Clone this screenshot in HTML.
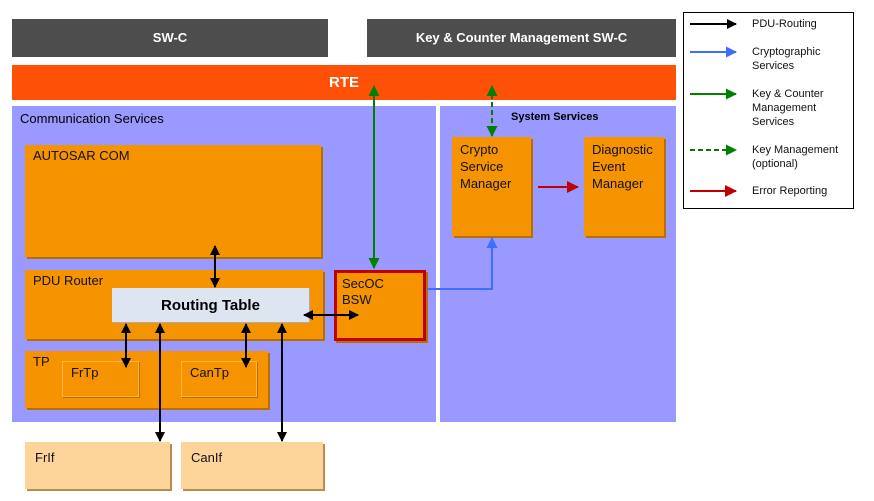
<!DOCTYPE html>
<html><head><meta charset="utf-8"><style>
body{margin:0;width:874px;height:501px;background:#fff;position:relative;overflow:hidden;font-family:"Liberation Sans",sans-serif;}
div{position:absolute;box-sizing:border-box;}
.o{background:#f59300;box-shadow:2px 2px 0 #b86e00;font-size:13px;color:#111;padding:3px 0 0 8px;line-height:16px;}
.l{background:#fdd59b;box-shadow:2px 2px 0 #b98a4a;font-size:13px;color:#111;padding:8px 0 0 10px;}
.g{background:#4d4d4d;color:#fff;font-weight:bold;font-size:13px;text-align:center;line-height:38px;}
.t{font-size:11px;color:#111;line-height:14px;}
</style></head><body>
<div class="g" style="left:12px;top:19px;width:316px;height:38px;">SW-C</div>
<div class="g" style="left:367px;top:19px;width:309px;height:38px;">Key &amp; Counter Management SW-C</div>
<div style="left:12px;top:65px;width:664px;height:35px;background:#ff5008;color:#fff;font-weight:bold;font-size:15px;text-align:center;line-height:35px;">RTE</div>
<div style="left:12px;top:106px;width:424px;height:316px;background:#9999ff;font-size:13px;padding:5px 0 0 8px;">Communication Services</div>
<div style="left:440px;top:106px;width:236px;height:316px;background:#9999ff;font-size:11px;font-weight:bold;padding:5px 0 0 71px;">System Services</div>
<div class="o" style="left:25px;top:145px;width:296px;height:112px;">AUTOSAR COM</div>
<div class="o" style="left:25px;top:270px;width:298px;height:69px;">PDU Router</div>
<div style="left:112px;top:288px;width:197px;height:34px;background:#dde6f0;font-weight:bold;font-size:15px;text-align:center;line-height:36px;box-shadow:1px 1px 0 #aab;">Routing Table</div>
<div class="o" style="left:334px;top:270px;width:92px;height:71px;border:3px solid #c00000;padding:3px 0 0 5px;">SecOC<br>BSW</div>
<div class="o" style="left:25px;top:351px;width:243px;height:57px;">TP</div>
<div class="o" style="left:62px;top:361px;width:77px;height:36px;box-shadow:1px 1px 0 #b86e00;border:1px solid #ffb347;">FrTp</div>
<div class="o" style="left:181px;top:361px;width:76px;height:36px;box-shadow:1px 1px 0 #b86e00;border:1px solid #ffb347;">CanTp</div>
<div class="l" style="left:25px;top:442px;width:145px;height:47px;">FrIf</div>
<div class="l" style="left:181px;top:442px;width:142px;height:47px;">CanIf</div>
<div class="o" style="left:452px;top:137px;width:79px;height:99px;font-size:13px;line-height:17px;padding-top:4px;">Crypto<br>Service<br>Manager</div>
<div class="o" style="left:584px;top:137px;width:80px;height:99px;font-size:13px;line-height:17px;padding-top:4px;">Diagnostic<br>Event<br>Manager</div>
<div style="left:683px;top:12px;width:171px;height:197px;border:1px solid #000;"></div>
<div class="t" style="left:752px;top:17px;">PDU-Routing</div>
<div class="t" style="left:752px;top:45px;">Cryptographic<br>Services</div>
<div class="t" style="left:752px;top:87px;">Key &amp; Counter<br>Management<br>Services</div>
<div class="t" style="left:752px;top:143px;">Key Management<br>(optional)</div>
<div class="t" style="left:752px;top:184px;">Error Reporting</div>
<svg width="874" height="501" style="position:absolute;left:0;top:0">
<defs>
<marker id="k" markerWidth="10" markerHeight="10" refX="9" refY="5" orient="auto-start-reverse" markerUnits="userSpaceOnUse"><path d="M0,0L10,5L0,10z" fill="#000"/></marker>
<marker id="gr" markerWidth="11" markerHeight="11" refX="10" refY="5.5" orient="auto-start-reverse" markerUnits="userSpaceOnUse"><path d="M0,0L11,5.5L0,11z" fill="#008000"/></marker>
<marker id="b" markerWidth="11" markerHeight="11" refX="10" refY="5.5" orient="auto-start-reverse" markerUnits="userSpaceOnUse"><path d="M0,0L11,5.5L0,11z" fill="#3d6fff"/></marker>
<marker id="r" markerWidth="12" markerHeight="12" refX="11" refY="6" orient="auto-start-reverse" markerUnits="userSpaceOnUse"><path d="M0,0L12,6L0,12z" fill="#c00000"/></marker>
</defs>
<g stroke="#000" stroke-width="2" fill="none">
<line x1="215" y1="246" x2="215" y2="287" marker-start="url(#k)" marker-end="url(#k)"/>
<line x1="304" y1="315" x2="358" y2="315" marker-start="url(#k)" marker-end="url(#k)"/>
<line x1="126" y1="324" x2="126" y2="367" marker-start="url(#k)" marker-end="url(#k)"/>
<line x1="246" y1="324" x2="246" y2="367" marker-start="url(#k)" marker-end="url(#k)"/>
<line x1="160" y1="324" x2="160" y2="441" marker-start="url(#k)" marker-end="url(#k)"/>
<line x1="282" y1="324" x2="282" y2="441" marker-start="url(#k)" marker-end="url(#k)"/>
<line x1="690" y1="24" x2="736" y2="24" marker-end="url(#k)"/>
</g>
<g stroke="#008000" stroke-width="2" fill="none">
<line x1="374" y1="86" x2="374" y2="268" marker-start="url(#gr)" marker-end="url(#gr)"/>
<line x1="492" y1="86" x2="492" y2="136" stroke-dasharray="5,3" marker-start="url(#gr)" marker-end="url(#gr)"/>
<line x1="690" y1="94" x2="736" y2="94" marker-end="url(#gr)"/>
<line x1="690" y1="150" x2="736" y2="150" stroke-dasharray="5,3" marker-end="url(#gr)"/>
</g>
<g stroke="#3d6fff" stroke-width="2" fill="none">
<polyline points="427,289 492,289 492,238" marker-end="url(#b)"/>
<line x1="690" y1="52" x2="736" y2="52" marker-end="url(#b)"/>
</g>
<g stroke="#c00000" stroke-width="2" fill="none">
<line x1="538" y1="187" x2="578" y2="187" marker-end="url(#r)"/>
<line x1="690" y1="191" x2="736" y2="191" marker-end="url(#r)"/>
</g>
</svg>
</body></html>
